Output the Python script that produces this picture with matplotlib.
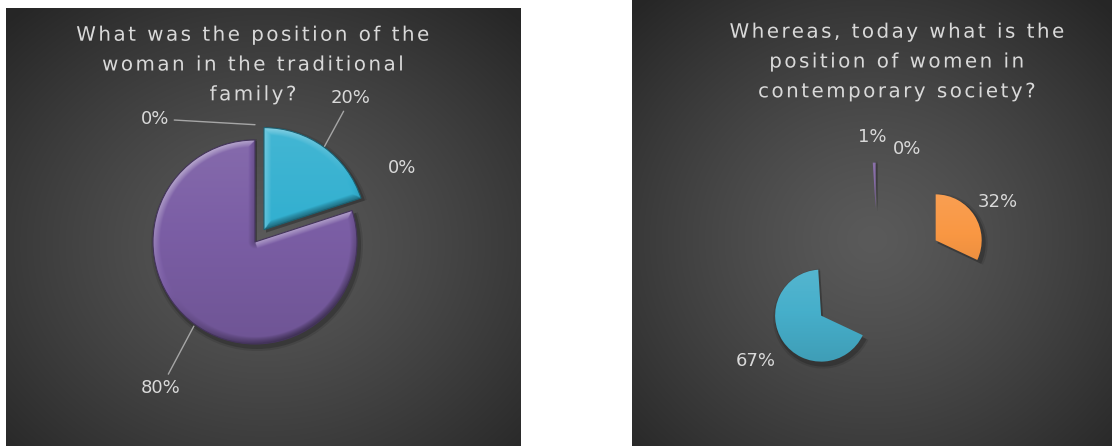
import numpy as np
import matplotlib.pyplot as plt
from matplotlib.patches import Wedge
from matplotlib.colors import to_rgb
from matplotlib.patheffects import AbstractPathEffect
from matplotlib.path import Path

W, H = 1112, 446

# left chart - traditional family
left_title = "What was the position of the\nwoman in the traditional\nfamily?"
left_values = [0, 20, 0, 80]
left_labels = ["0%", "20%", "0%", "80%"]
left_colors = ['#f79646', '#33b0d0', '#9bbb59', '#7b5ea5']

# right chart - contemporary society
right_title = "Whereas, today what is the\nposition of women in\ncontemporary society?"
right_values = [32, 67, 1, 0]
right_labels = ["32%", "67%", "1%", "0%"]
right_colors = ['#f99743', '#46afcb', '#8064a2', '#9bbb59']

TXT = '#d9d9d9'
LEAD = '#a6a6a6'


def up(y):
    # reference measured with y going down
    return H - y


class LetterSpacing(AbstractPathEffect):
    # spreads the glyphs of a text line apart, like the office "spacing" option
    def __init__(self, px):
        super().__init__()
        self.px = px

    def draw_path(self, renderer, gc, tpath, affine, rgbFace=None):
        verts = tpath.vertices.copy()
        codes = tpath.codes
        if codes is None or len(verts) == 0:
            renderer.draw_path(gc, tpath, affine, rgbFace)
            return
        starts = np.flatnonzero(codes == Path.MOVETO)
        ends = np.append(starts[1:], len(codes))
        spans = sorted((verts[s:e, 0].min(), verts[s:e, 0].max(), s, e)
                       for s, e in zip(starts, ends))
        groups = []
        for x0, x1, s, e in spans:
            if groups:
                g = groups[-1]
                ov = min(x1, g[1]) - max(x0, g[0])
                if ov > 0.4 * min(x1 - x0, g[1] - g[0]):
                    g[1] = max(g[1], x1)
                    g[2].append((s, e))
                    continue
            groups.append([x0, x1, [(s, e)]])
        step = self.px / abs(affine.get_matrix()[0, 0])
        slot, slots = 0, []
        for i, g in enumerate(groups):
            if i > 0:
                gap = g[0] - groups[i - 1][1]
                slot += 1 + int(gap > 25)
            slots.append(slot)
        mid = slots[-1] / 2
        for g, sl in zip(groups, slots):
            for s, e in g[2]:
                verts[s:e, 0] += (sl - mid) * step
        renderer.draw_path(gc, Path(verts, codes), affine, rgbFace)


def tint(c, s):
    c = np.asarray(c)
    s = np.asarray(s)[..., None]
    return np.where(s > 0, c + (1 - c) * s, c * (1 + s))


def background(ax, x0, x1, y0, y1, cx, cy):
    X, Y = np.meshgrid(np.arange(x0, x1), np.arange(y0, y1))
    t = np.hypot((X - cx) / ((x1 - x0) * 0.72), (Y - cy) / ((y1 - y0) * 0.72))
    t = np.clip(t, 0, 1) ** 1.25
    inner = np.array(to_rgb('#5a5a5a'))
    outer = np.array(to_rgb('#262626'))
    img = inner * (1 - t[..., None]) + outer * t[..., None]
    ax.imshow(img, extent=(x0, x1, y0, y1), origin='lower', zorder=0,
              interpolation='bilinear')


def paint_wedge(ax, w, color, bevel=0.0, top=0.08, bottom=-0.10):
    t1, t2 = np.radians(w.theta1), np.radians(w.theta2)
    if t2 - t1 < 1e-9:
        w.set_visible(False)
        return
    cx, cy = w.center
    r = w.r
    # soft shadow
    for k, a in ((4, 0.10), (2, 0.18)):
        ax.add_patch(Wedge((cx + 2, cy - 3), r + k, w.theta1, w.theta2,
                           fc='black', ec='none', alpha=a, zorder=1.5))
    x0, x1 = cx - r - 2, cx + r + 2
    y0, y1 = cy - r - 2, cy + r + 2
    X, Y = np.meshgrid(np.arange(x0, x1, 0.5), np.arange(y0, y1, 0.5))
    rx, ry = X - cx, Y - cy
    shade = bottom + (top - bottom) * (Y - (cy - r)) / (2 * r)
    if bevel:
        rho = np.hypot(rx, ry) + 1e-9
        dists, nxs, nys = [r - rho], [rx / rho], [ry / rho]
        for t, sgn in ((t1, 1), (t2, -1)):
            ex, ey = np.cos(t), np.sin(t)
            proj = np.clip(rx * ex + ry * ey, 0, r)
            dists.append(np.hypot(rx - proj * ex, ry - proj * ey))
            nxs.append(np.full_like(rx, sgn * np.sin(t)))
            nys.append(np.full_like(rx, -sgn * np.cos(t)))
        D = np.stack(dists)
        idx = np.argmin(D, axis=0)[None]
        dmin = np.take_along_axis(D, idx, 0)[0]
        nx = np.take_along_axis(np.stack(nxs), idx, 0)[0]
        ny = np.take_along_axis(np.stack(nys), idx, 0)[0]
        f = np.clip(1 - dmin / bevel, 0, 1) ** 0.8
        shade = shade + 0.42 * (nx * -0.55 + ny * 0.83) * f
    img = tint(to_rgb(color), np.clip(shade, -0.8, 0.8))
    im = ax.imshow(img, extent=(x0, x1, y0, y1), origin='lower', zorder=2,
                   interpolation='bilinear')
    im.set_clip_path(w)
    w.set_facecolor('none')
    w.set_zorder(2.1)


def draw_pie(ax, values, labels, colors, center, radius, explode, bevel,
             label_pos, leaders):
    wedges, _ = ax.pie(values, colors=colors, startangle=90, counterclock=False,
                       explode=[e * radius for e in explode],
                       center=center, radius=radius, normalize=True, frame=True,
                       wedgeprops=dict(linewidth=0.8 if bevel else 0))
    for w, c in zip(wedges, colors):
        if bevel:
            w.set_edgecolor(tint(to_rgb(c), -0.45))
        paint_wedge(ax, w, c, bevel=bevel)
    for w, lab, (nudge, dist), lead in zip(wedges, labels, label_pos, leaders):
        mid = (w.theta1 + w.theta2) / 2
        cx, cy = w.center
        a = np.radians(mid - nudge)
        pos = (cx + w.r * dist * np.cos(a), cy + w.r * dist * np.sin(a))
        if lead:
            b = np.radians(mid)
            end = (cx + w.r * lead * np.cos(b), cy + w.r * lead * np.sin(b))
            ax.annotate(lab, xy=end, xytext=pos, ha='center', va='center',
                        fontsize=13, color=TXT, zorder=5,
                        arrowprops=dict(arrowstyle='-', color=LEAD, lw=1,
                                        shrinkA=1.5, shrinkB=0))
        else:
            ax.text(pos[0], pos[1], lab, ha='center', va='center',
                    fontsize=13, color=TXT, zorder=5)


fig = plt.figure(figsize=(W / 100, H / 100), dpi=100)
fig.patch.set_facecolor('white')
ax = fig.add_axes([0, 0, 1, 1])

background(ax, 6, 521, 0, up(8), 265, up(245))
background(ax, 632, W, 0, H, 872, up(240))

draw_pie(ax, left_values, left_labels, left_colors,
         center=(255, up(242)), radius=102,
         explode=[0.15, 0.15, 0, 0], bevel=7,
         label_pos=[(-42.8, 1.44), (-2.6, 1.55), (-8.7, 1.61), (-3.2, 1.70)],
         leaders=[1.0, 1.01, 0, 1.02])

draw_pie(ax, right_values, right_labels, right_colors,
         center=(877.8, up(277.1)), radius=46,
         explode=[1.49, 1.49, 1.49, 1.49], bevel=0,
         label_pos=[(0.6, 1.59), (-0.5, 1.72), (-0.8, 1.55), (25.9, 1.44)],
         leaders=[0, 0, 0, 0])

for x, y, title in ((253, 65, left_title), (897, 62, right_title)):
    ax.text(x, up(y), title, ha='center', va='center', ma='center',
            fontsize=14.3, color=TXT, linespacing=1.72, zorder=5,
            path_effects=[LetterSpacing(2.5)])

ax.set_xlim(0, W)
ax.set_ylim(0, H)
ax.set_aspect('auto')
ax.axis('off')

fig.savefig('out.png', dpi=100, facecolor='white')
